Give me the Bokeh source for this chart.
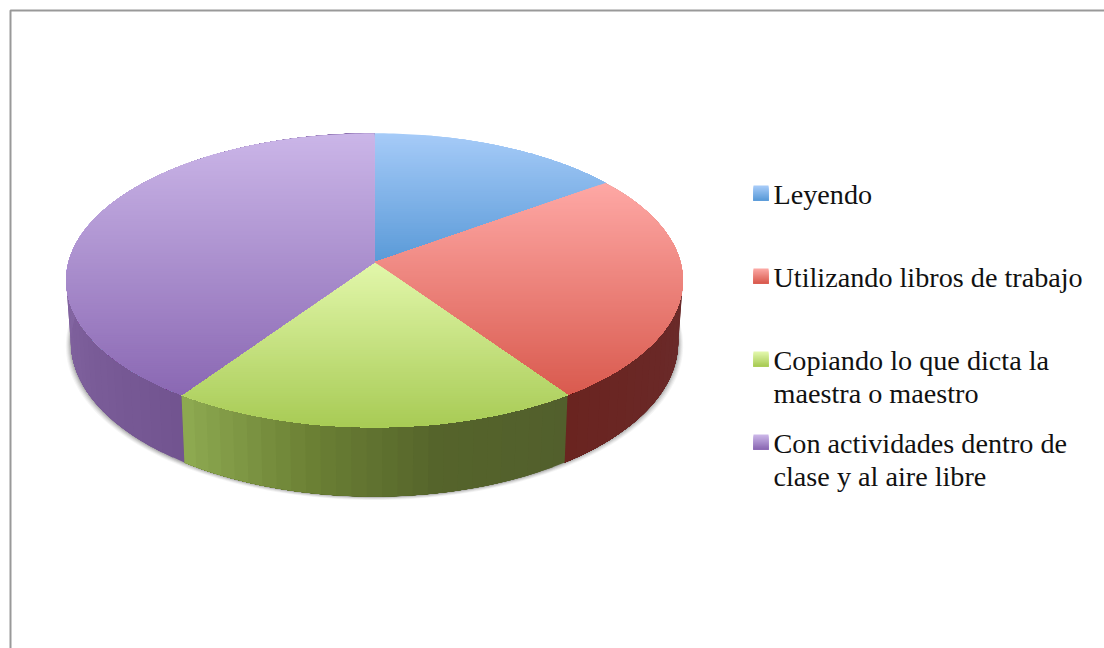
import math
from bokeh.plotting import figure
from bokeh.models import Range1d, ColumnDataSource
from bokeh.core.properties import value
from bokeh.embed import file_html
from bokeh.resources import INLINE

categories = ["Leyendo", "Utilizando libros de trabajo",
              "Copiando lo que dicta la\nmaestra o maestro",
              "Con actividades dentro de\nclase y al aire libre"]
values = [15, 25.4, 19.2, 40.4]

top_colors = [("#a6cbf8", "#5a9ad8"), ("#fea8a5", "#d95a4e"),
              ("#e2f7ab", "#a8cb55"), ("#cbb6e8", "#8a68b3")]
wall_colors = [[(0.0, "#4a7cb0"), (1.0, "#4a7cb0")],
               [(0.0, "#6c3830"), (0.5, "#6a2b2b"), (1.0, "#6a2420")],
               [(0.0, "#525f2c"), (0.35, "#55642b"), (0.65, "#6b8034"), (1.0, "#8fab52")],
               [(0.0, "#725490"), (0.35, "#8264a0"), (1.0, "#8f75b4")]]
swatch_colors = [("#a6cbf8", "#5a9ad8"), ("#fba7a3", "#d95a4e"),
                 ("#e2f7ab", "#a8cb55"), ("#cbb6e8", "#8a68b3")]

CX, CY, R, A, K = 374.0, 261.8, 306.0, 144.8, 0.1224


def top_pt(theta):
    u, v = math.sin(theta), math.cos(theta)
    d = 1 + K * v
    return CX + R * u / d, CY - A * v / d


def bottom_pt(theta):
    x, y = top_pt(theta)
    return CX + (x - CX) * 0.985, CY + (y - CY) * 1.05 + 61.0


def hexrgb(c):
    return tuple(int(c[i:i + 2], 16) for i in (1, 3, 5))


def mix(a, b, t):
    ra, rb = hexrgb(a), hexrgb(b)
    return "#%02x%02x%02x" % tuple(round(ra[i] + (rb[i] - ra[i]) * t) for i in range(3))


def ramp(stops, t):
    for (t0, c0), (t1, c1) in zip(stops, stops[1:]):
        if t <= t1:
            return mix(c0, c1, (t - t0) / (t1 - t0) if t1 > t0 else 0)
    return stops[-1][1]


def clip_below(poly, yb):
    out = []
    for i, a in enumerate(poly):
        b = poly[(i + 1) % len(poly)]
        ia, ib = a[1] >= yb, b[1] >= yb
        if ia:
            out.append(a)
        if ia != ib:
            t = (yb - a[1]) / (b[1] - a[1])
            out.append((a[0] + (b[0] - a[0]) * t, yb))
    return out


p = figure(width=1104, height=648, output_backend="svg", toolbar_location=None,
           x_range=Range1d(0, 1104), y_range=Range1d(648, 0),
           min_border=0, outline_line_color=None)
p.axis.visible = False
p.grid.visible = False
p.background_fill_color = "white"
p.border_fill_color = "white"

# frame
p.line([10, 10, 1104], [648, 10, 10], line_color="#999999", line_width=2)

# slice angles
total = sum(values)
edges = [0.0]
for val in values:
    edges.append(edges[-1] + val / total * 2 * math.pi)

# soft shadow under the wall
ring = [bottom_pt(2 * math.pi * i / 240) for i in range(240)]
for grow, alpha in [(5, 0.06), (4, 0.08), (3, 0.10), (2, 0.14), (1, 0.18)]:
    sx = [CX + (x - CX) * (1 + grow / 305.0) for x, y in ring]
    sy = [y + grow * 0.7 for x, y in ring]
    p.patch(sx, sy, fill_color="#555555", fill_alpha=alpha, line_color=None)

# walls: each strip is painted over the tail of the one before it
wx, wy, wc = [], [], []
for i in range(len(values)):
    a0, a1 = edges[i], edges[i + 1]
    n = max(2, int((a1 - a0) / math.radians(2.5)))
    for j in range(n):
        t0 = a0 + (a1 - a0) * j / n
        t1 = a1
        if math.cos(t0) > 0.3 and math.cos(t1) > 0.3 and j < n - 1 and i != 3:
            continue
        arc = [t0 + (t1 - t0) * k / 24 for k in range(25)]
        xs = [top_pt(t)[0] for t in arc] + [bottom_pt(t)[0] for t in reversed(arc)]
        ys = [top_pt(t)[1] for t in arc] + [bottom_pt(t)[1] for t in reversed(arc)]
        wx.append(xs)
        wy.append(ys)
        wc.append(ramp(wall_colors[i], (j + 0.5) / n))
p.patches("x", "y", source=ColumnDataSource(dict(x=wx, y=wy, c=wc)),
          fill_color="c", line_color=None)

# top face: gradient painted from the top down, each band covering all below it
tx, ty, tc = [], [], []
for i in range(len(values)):
    a0, a1 = edges[i], edges[i + 1]
    n = max(2, int((a1 - a0) / math.radians(1.0)))
    poly = [(CX, CY)] + [top_pt(a0 + (a1 - a0) * j / n) for j in range(n + 1)]
    ymin = min(q[1] for q in poly)
    ymax = max(q[1] for q in poly)
    y = ymin
    while y < ymax:
        band = clip_below(poly, y)
        if len(band) >= 3:
            tx.append([q[0] for q in band])
            ty.append([q[1] for q in band])
            tc.append(mix(top_colors[i][0], top_colors[i][1], (y + 1 - ymin) / (ymax - ymin)))
        y += 2.0
p.patches("x", "y", source=ColumnDataSource(dict(x=tx, y=ty, c=tc)),
          fill_color="c", line_color=None)

# legend
legend_x = 773
swatch_top = [185, 268, 351, 434]
for i, label in enumerate(categories):
    y0 = swatch_top[i]
    sx, sy, sc = [], [], []
    for k in range(15):
        sx.append([753, 768, 768, 753])
        sy.append([y0 + k, y0 + k, y0 + 15, y0 + 15])
        sc.append(mix(swatch_colors[i][0], swatch_colors[i][1], k / 14))
    p.patches("x", "y", source=ColumnDataSource(dict(x=sx, y=sy, c=sc)),
              fill_color="c", line_color=None)
    for k, line in enumerate(label.split("\n")):
        p.text([legend_x], [y0 + 9 + 33 * k], text=[line],
               text_font=value("Liberation Serif"), text_font_size="28.2px",
               text_color="#111111", text_baseline="alphabetic", text_align="left")

open("out.html", "w").write(file_html(p, INLINE))
